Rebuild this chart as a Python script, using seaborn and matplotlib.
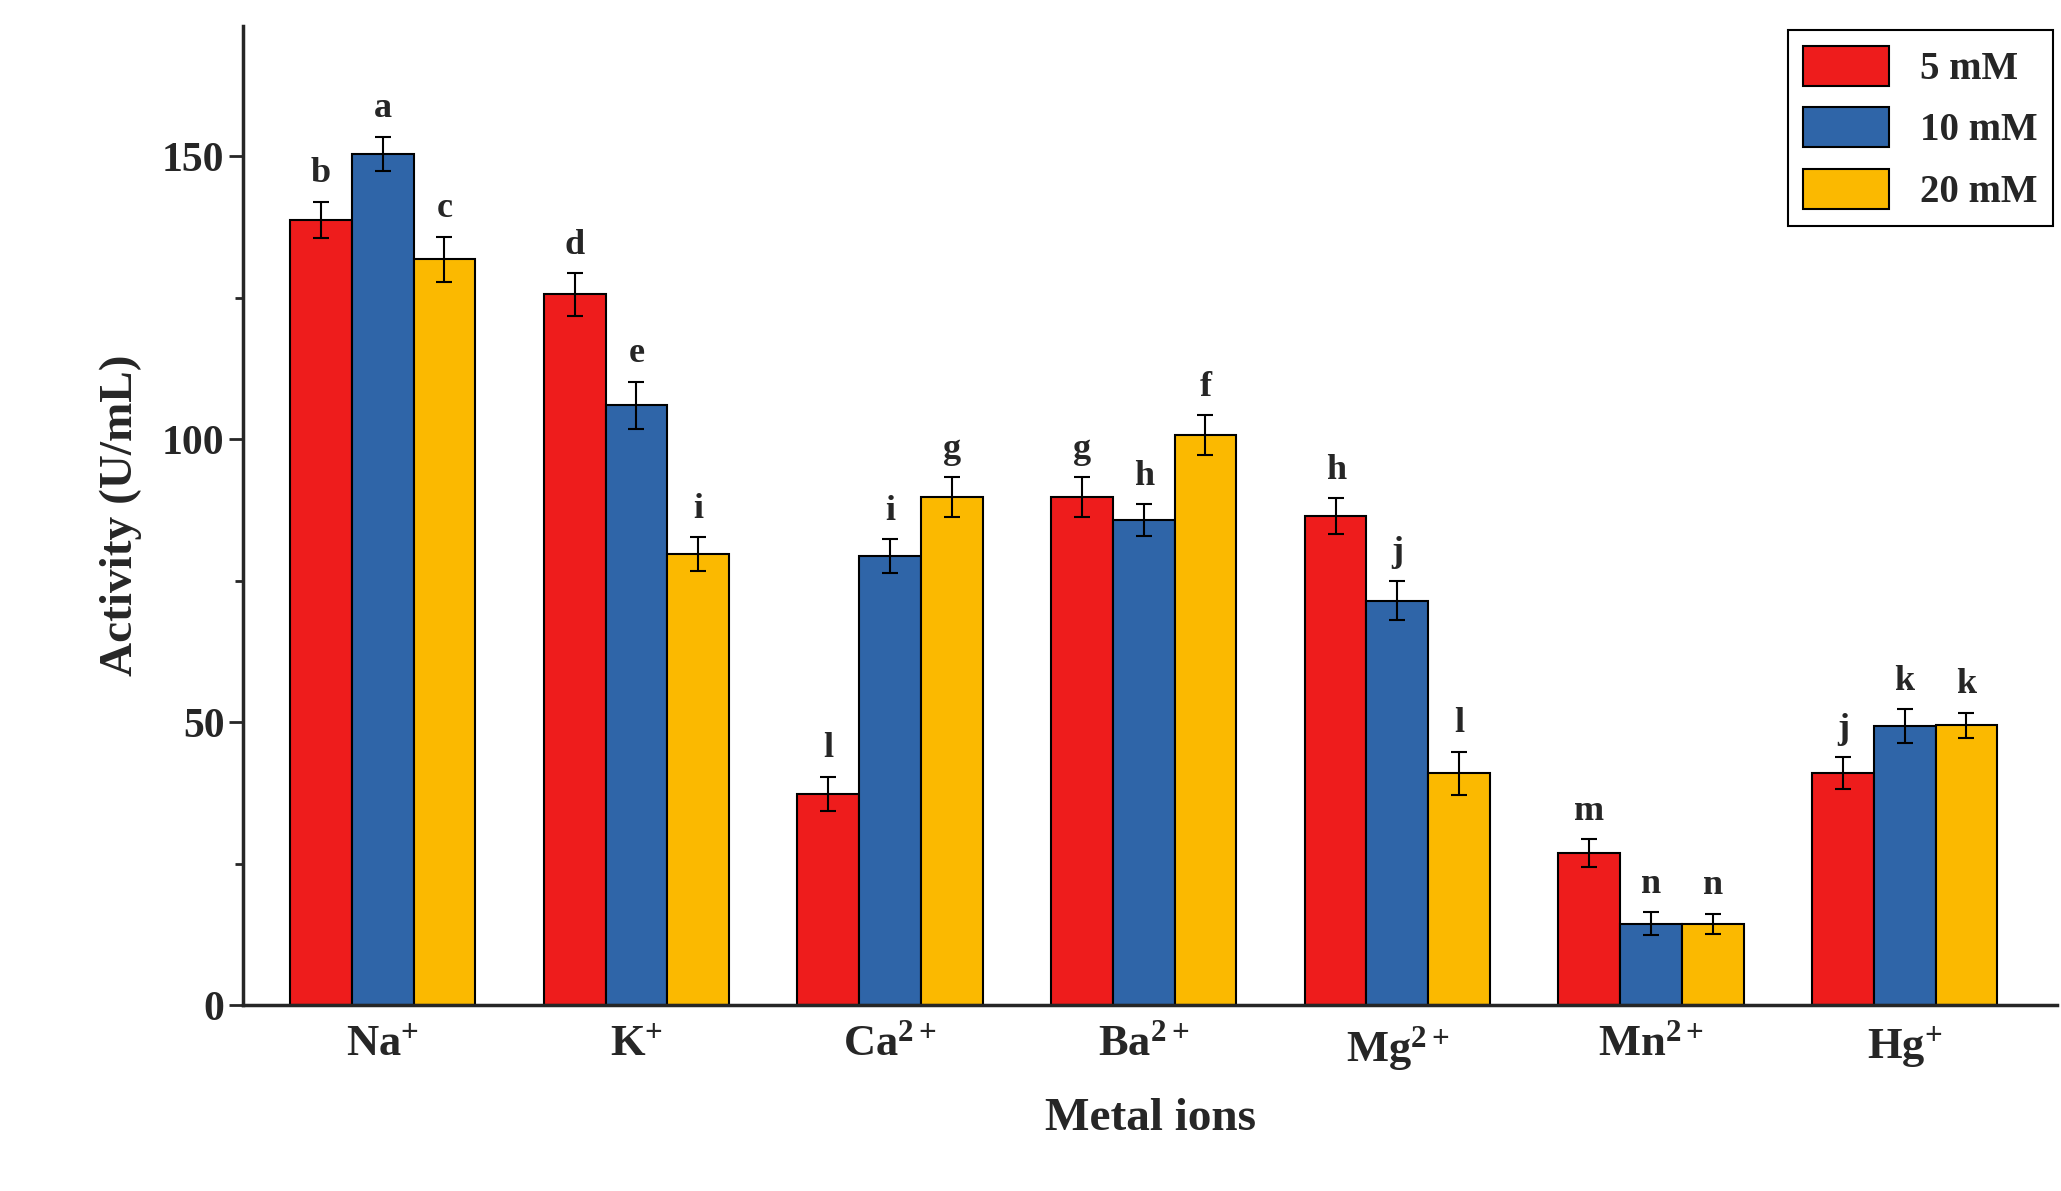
import matplotlib
matplotlib.use("Agg")
import matplotlib.pyplot as plt
import seaborn as sns
import pandas as pd
import numpy as np
from matplotlib.ticker import MultipleLocator

ions = ['Na$^{+}$', 'K$^{+}$', 'Ca$^{2+}$', 'Ba$^{2+}$', 'Mg$^{2+}$', 'Mn$^{2+}$', 'Hg$^{+}$']
series = ['5 mM', '10 mM', '20 mM']
v5 = [138.8, 125.6, 37.4, 89.8, 86.4, 26.9, 41.0]
v10 = [150.5, 106.0, 79.3, 85.8, 71.5, 14.4, 49.3]
v20 = [131.8, 79.7, 89.8, 100.8, 41.0, 14.4, 49.5]
e5 = [3.2, 3.8, 3.0, 3.5, 3.2, 2.5, 2.8]
e10 = [3.0, 4.2, 3.0, 2.8, 3.5, 2.0, 3.0]
e20 = [4.0, 3.0, 3.5, 3.5, 3.8, 1.8, 2.2]
l5 = ['b', 'd', 'l', 'g', 'h', 'm', 'j']
l10 = ['a', 'e', 'i', 'h', 'j', 'n', 'k']
l20 = ['c', 'i', 'g', 'f', 'l', 'n', 'k']
colors = ['#ee1c1c', '#2f65a8', '#fbb900']

sns.set_style('ticks')
plt.rcParams['font.family'] = ['Liberation Serif', 'DejaVu Serif']
plt.rcParams['font.weight'] = 'bold'
plt.rcParams['mathtext.fontset'] = 'custom'
plt.rcParams['mathtext.rm'] = 'Liberation Serif:bold'
plt.rcParams['mathtext.it'] = 'Liberation Serif:bold'
plt.rcParams['mathtext.bf'] = 'Liberation Serif:bold'
plt.rcParams['mathtext.default'] = 'bf'

df = pd.DataFrame({
    'ion': ions * 3,
    'conc': [s for s in series for _ in ions],
    'val': v5 + v10 + v20,
})
errs = [e5, e10, e20]
labs = [l5, l10, l20]

fig = plt.figure(figsize=(20.61, 11.91), dpi=100)
ax = fig.add_axes([0.118, 0.156, 0.88, 0.822])
sns.barplot(data=df, x='ion', y='val', hue='conc', palette=colors, width=0.73,
            edgecolor='black', linewidth=1.5, ax=ax, errorbar=None, saturation=1)

bar_conts = list(ax.containers)
for k, cont in enumerate(bar_conts):
    for i, p in enumerate(cont.patches):
        xc = p.get_x() + p.get_width() / 2
        h = p.get_height()
        ax.errorbar(xc, h, yerr=errs[k][i], color='black', capsize=6, elinewidth=1.5, capthick=1.5)
        ax.text(xc, h + errs[k][i] + 2, labs[k][i], ha='center', va='bottom', fontsize=26, fontweight='bold')

ax.set_ylim(0, 173)
ax.set_xlim(-0.55, 6.6)
ax.yaxis.set_major_locator(MultipleLocator(50))
ax.yaxis.set_minor_locator(MultipleLocator(25))
ax.tick_params(axis='y', which='major', length=10, width=2, labelsize=30)
ax.tick_params(axis='y', which='minor', length=6, width=2)
ax.tick_params(axis='x', length=0, labelsize=32, pad=14)
for s in ['left', 'bottom']:
    ax.spines[s].set_linewidth(2.5)
sns.despine(ax=ax)
ax.set_xlabel('Metal ions', fontsize=34, fontweight='bold', labelpad=18)
ax.set_ylabel('Activity (U/mL)', fontsize=34, fontweight='bold', labelpad=14)
leg = ax.legend(title=None, fontsize=28, loc='upper right', fancybox=False, edgecolor='black',
                framealpha=1, handlelength=2.2, handleheight=1.2, borderaxespad=0.1)
leg.get_frame().set_linewidth(1.5)
fig.savefig('out.png', dpi=100)
